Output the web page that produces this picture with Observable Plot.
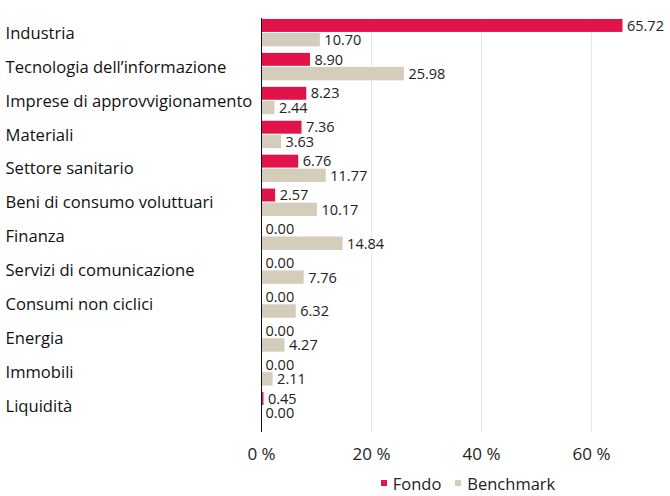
<!DOCTYPE html>
<html>
<head>
<meta charset="utf-8">
<script src="https://cdn.jsdelivr.net/npm/d3@7"></script>
<script src="https://cdn.jsdelivr.net/npm/@observablehq/plot@0.6"></script>
<style>
  body { margin: 0; background: #fff; font-family: "Open Sans", sans-serif; }
  #legend { width: 670px; height: 26px; display: flex; justify-content: center; align-items: center; gap: 14px; font-size: 16.5px; color: #222; padding-left: 266px; box-sizing: border-box; }
  #legend span.item { display: inline-flex; align-items: center; }
  #legend i { display: inline-block; width: 6px; height: 6px; margin-right: 6px; }
</style>
</head>
<body>
<div id="chart"></div>
<div id="legend"></div>
<script>
const categories = ["Industria", "Tecnologia dell’informazione", "Imprese di approvvigionamento", "Materiali", "Settore sanitario", "Beni di consumo voluttuari", "Finanza", "Servizi di comunicazione", "Consumi non ciclici", "Energia", "Immobili", "Liquidità"];
const fondo = [65.72, 8.90, 8.23, 7.36, 6.76, 2.57, 0.00, 0.00, 0.00, 0.00, 0.00, 0.45];
const benchmark = [10.70, 25.98, 2.44, 3.63, 11.77, 10.17, 14.84, 7.76, 6.32, 4.27, 2.11, 0.00];
const series = ["Fondo", "Benchmark"];
const colors = ["#e2124b", "#d5cdbb"];
const xTicks = [0, 20, 40, 60];

const fondoData = categories.map((c, i) => ({category: c, series: "Fondo", value: fondo[i]}));
const benchData = categories.map((c, i) => ({category: c, series: "Benchmark", value: benchmark[i]}));

const chart = Plot.plot({
  width: 670,
  height: 470,
  marginLeft: 261,
  marginRight: 24,
  marginTop: 18,
  marginBottom: 38,
  style: {fontFamily: "Open Sans, sans-serif", color: "#222", background: "#fff"},
  x: {domain: [0, 70], label: null},
  y: {domain: categories, padding: 0, round: false, range: [18, 425], axis: null},
  color: {domain: series, range: colors},
  marks: [
    Plot.ruleX(xTicks.filter(d => d > 0), {stroke: "#e6e6e6", strokeWidth: 1}),
    Plot.barX(fondoData, {y: "category", x: "value", fill: "series", insetTop: 1, insetBottom: 20}),
    Plot.barX(benchData, {y: "category", x: "value", fill: "series", insetTop: 15, insetBottom: 5.5}),
    Plot.ruleX([0], {stroke: "#111", strokeWidth: 1}),
    Plot.text(fondoData, {y: "category", x: "value", text: d => d.value.toFixed(2), textAnchor: "start", dx: 4, dy: -9.5, fontSize: 14.5, fill: "#222"}),
    Plot.text(benchData, {y: "category", x: "value", text: d => d.value.toFixed(2), textAnchor: "start", dx: 4, dy: 5, fontSize: 14.5, fill: "#222"}),
    Plot.text(categories, {y: d => d, text: d => d, frameAnchor: "left", textAnchor: "start", dx: -256, dy: -2, fontSize: 16.6, fill: "#111"}),
    Plot.axisX({ticks: xTicks, tickFormat: d => d + " %", tickSize: 0, tickPadding: 15, label: null, fontSize: 17})
  ]
});
document.getElementById("chart").appendChild(chart);

const legend = document.getElementById("legend");
series.forEach((s, i) => {
  const item = document.createElement("span");
  item.className = "item";
  item.innerHTML = `<i style="background:${colors[i]}"></i>${s}`;
  legend.appendChild(item);
});
</script>
</body>
</html>
